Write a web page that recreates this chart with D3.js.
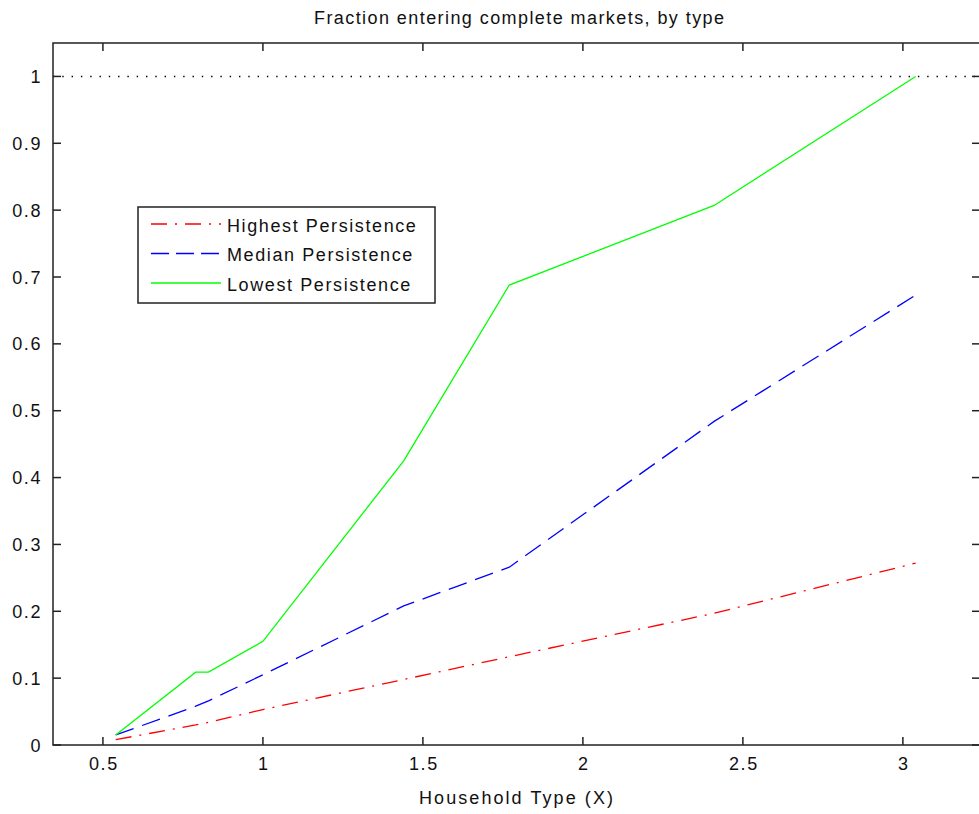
<!DOCTYPE html>
<html>
<head>
<meta charset="utf-8">
<script src="https://cdn.jsdelivr.net/npm/d3@7"></script>
<style>
  body { margin: 0; background: #fff; }
  svg text { font-family: "Liberation Sans", Arial, sans-serif; fill: #111; font-size: 18px; letter-spacing: 1.6px; }
</style>
</head>
<body>
<div id="chart"></div>
<script>
"use strict";

// household type (x) values shared by all three series
const householdType = [0.54, 0.79, 0.83, 1.0, 1.44, 1.77, 2.41, 3.04];
const highest = [0.008, 0.030, 0.034, 0.053, 0.098, 0.132, 0.197, 0.272];
const median = [0.015, 0.058, 0.066, 0.105, 0.208, 0.266, 0.484, 0.673];
const lowest = [0.015, 0.109, 0.109, 0.155, 0.425, 0.688, 0.807, 1.0];
const seriesNames = ["Highest Persistence", "Median Persistence", "Lowest Persistence"];
const xTicks = [0.5, 1, 1.5, 2, 2.5, 3];
const yTicks = [0, 0.1, 0.2, 0.3, 0.4, 0.5, 0.6, 0.7, 0.8, 0.9, 1];

const width = 979, height = 814;
const plotLeft = 53, plotRight = 980, plotTop = 43, plotBottom = 745;

const svg = d3.select("#chart").append("svg")
    .attr("width", width)
    .attr("height", height);

const x = d3.scaleLinear().domain([0.344, 3.241]).range([plotLeft, plotRight]);
const y = d3.scaleLinear().domain([0, 1.05]).range([plotBottom, plotTop]);

const styles = [
  {color: "#ff0000", dash: "16,8,2,8", legendDash: "16,8,2,8"},
  {color: "#0000ff", dash: "19,9", legendDash: "18,7"},
  {color: "#00ff00", dash: null, legendDash: null}
];
const allSeries = [highest, median, lowest];

// reference line at 1
svg.append("line")
    .attr("x1", x.range()[0]).attr("x2", x.range()[1])
    .attr("y1", y(1)).attr("y2", y(1))
    .style("stroke", "#000")
    .style("stroke-width", 1.4)
    .style("stroke-dasharray", "1.4,7.9");

const line = d3.line()
    .x((d, i) => x(householdType[i]))
    .y(d => y(d));

allSeries.forEach(function(s, k) {
  svg.append("path")
      .datum(s)
      .attr("d", line)
      .style("fill", "none")
      .style("stroke", styles[k].color)
      .style("stroke-width", 1.3)
      .style("stroke-dasharray", styles[k].dash);
});

// axes, ticks inside on all four sides
const tickLen = 8;
const frame = svg.append("g").style("stroke", "#222").style("stroke-width", 1.5);
frame.append("rect")
    .attr("x", plotLeft).attr("y", plotTop)
    .attr("width", plotRight - plotLeft).attr("height", plotBottom - plotTop)
    .style("fill", "none");

xTicks.forEach(function(t) {
  frame.append("line").attr("x1", x(t)).attr("x2", x(t)).attr("y1", plotBottom).attr("y2", plotBottom - tickLen);
  frame.append("line").attr("x1", x(t)).attr("x2", x(t)).attr("y1", plotTop).attr("y2", plotTop + tickLen);
});
yTicks.forEach(function(t) {
  frame.append("line").attr("x1", plotLeft).attr("x2", plotLeft + tickLen).attr("y1", y(t)).attr("y2", y(t));
  frame.append("line").attr("x1", plotRight).attr("x2", plotRight - tickLen).attr("y1", y(t)).attr("y2", y(t));
});

svg.selectAll(".xlab")
    .data(xTicks)
    .enter().append("text")
    .attr("x", d => x(d) + 1)
    .attr("y", 770)
    .style("text-anchor", "middle")
    .text(d => d);

svg.selectAll(".ylab")
    .data(yTicks)
    .enter().append("text")
    .attr("x", plotLeft - 11)
    .attr("y", d => y(d) + 6.5)
    .style("text-anchor", "end")
    .text(d => d);

svg.append("text")
    .attr("x", 519)
    .attr("y", 24)
    .style("text-anchor", "middle")
    .attr("textLength", 410)
    .attr("lengthAdjust", "spacing")
    .style("letter-spacing", "0px")
    .text("Fraction entering complete markets, by type");

svg.append("text")
    .attr("x", 516)
    .attr("y", 804)
    .style("text-anchor", "middle")
    .attr("textLength", 194)
    .attr("lengthAdjust", "spacing")
    .style("letter-spacing", "0px")
    .text("Household Type (X)");

// legend
const legend = svg.append("g").attr("transform", "translate(138,207)");
legend.append("rect")
    .attr("width", 297).attr("height", 96)
    .style("fill", "#fff")
    .style("stroke", "#222")
    .style("stroke-width", 1.5);

seriesNames.forEach(function(name, k) {
  const ly = 17 + k * 29.5;
  legend.append("line")
      .attr("x1", 13).attr("x2", 83)
      .attr("y1", ly).attr("y2", ly)
      .style("stroke", styles[k].color)
      .style("stroke-width", 1.3)
      .style("stroke-dasharray", styles[k].legendDash);
  legend.append("text")
      .attr("x", 89)
      .attr("y", ly + 7.5)
      .text(name);
});
</script>
</body>
</html>
